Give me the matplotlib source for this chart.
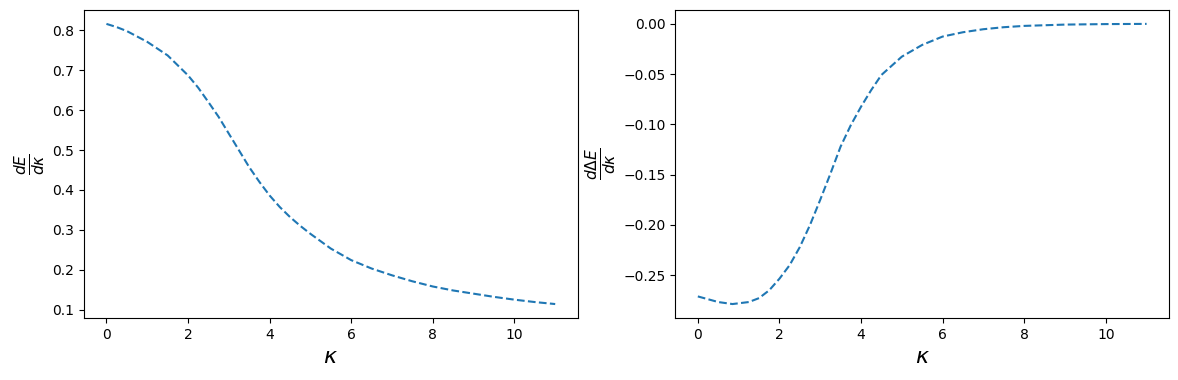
import matplotlib.pyplot as plt

# values
kappa = [0.0, 0.25, 0.5, 1.0, 1.5, 2.0, 2.25, 2.5, 2.75, 3.0, 3.25, 3.5, 3.75,
         4.0, 4.25, 4.5, 4.75, 5.0, 5.5, 6.0, 6.5, 7.0, 7.5, 8.0, 8.5, 9.0,
         9.5, 10.0, 10.5, 11.0]
dE = [0.816, 0.808, 0.798, 0.771, 0.737, 0.687, 0.656, 0.620, 0.583, 0.541,
      0.499, 0.457, 0.420, 0.386, 0.357, 0.332, 0.310, 0.290, 0.253, 0.224,
      0.203, 0.186, 0.171, 0.158, 0.148, 0.140, 0.132, 0.125, 0.119, 0.114]

kappa2 = [0.0, 0.5, 0.85, 1.25, 1.5, 1.75, 2.0, 2.25, 2.5, 2.75, 3.0, 3.25,
          3.5, 3.75, 4.0, 4.25, 4.5, 5.0, 5.5, 6.0, 6.5, 7.0, 7.5, 8.0, 9.0,
          10.0, 11.0]
d_delta_E = [-0.2711, -0.2767, -0.2787, -0.2767, -0.2728, -0.265, -0.2535,
             -0.240, -0.222, -0.200, -0.175, -0.149, -0.122, -0.1007, -0.0824,
             -0.0658, -0.0508, -0.0326, -0.0209, -0.0126, -0.0083, -0.0053,
             -0.0033, -0.0020, -0.0007, -0.0002, 0.0]

fig, (ax1, ax2) = plt.subplots(1, 2, figsize=(11.78, 3.8), dpi=100)
fig.subplots_adjust(left=0.0713, right=0.9924, top=0.974, bottom=0.163, wspace=0.198)

ax1.plot(kappa, dE, '--')
ax1.set_xlabel(r'$\kappa$', fontsize=16)
ax1.set_ylabel(r'$\frac{dE}{d\kappa}$', fontsize=16)

ax2.plot(kappa2, d_delta_E, '--')
ax2.set_xlabel(r'$\kappa$', fontsize=16)
ax2.set_ylabel(r'$\frac{d\Delta E}{d\kappa}$', fontsize=16)

fig.savefig('out.png')
